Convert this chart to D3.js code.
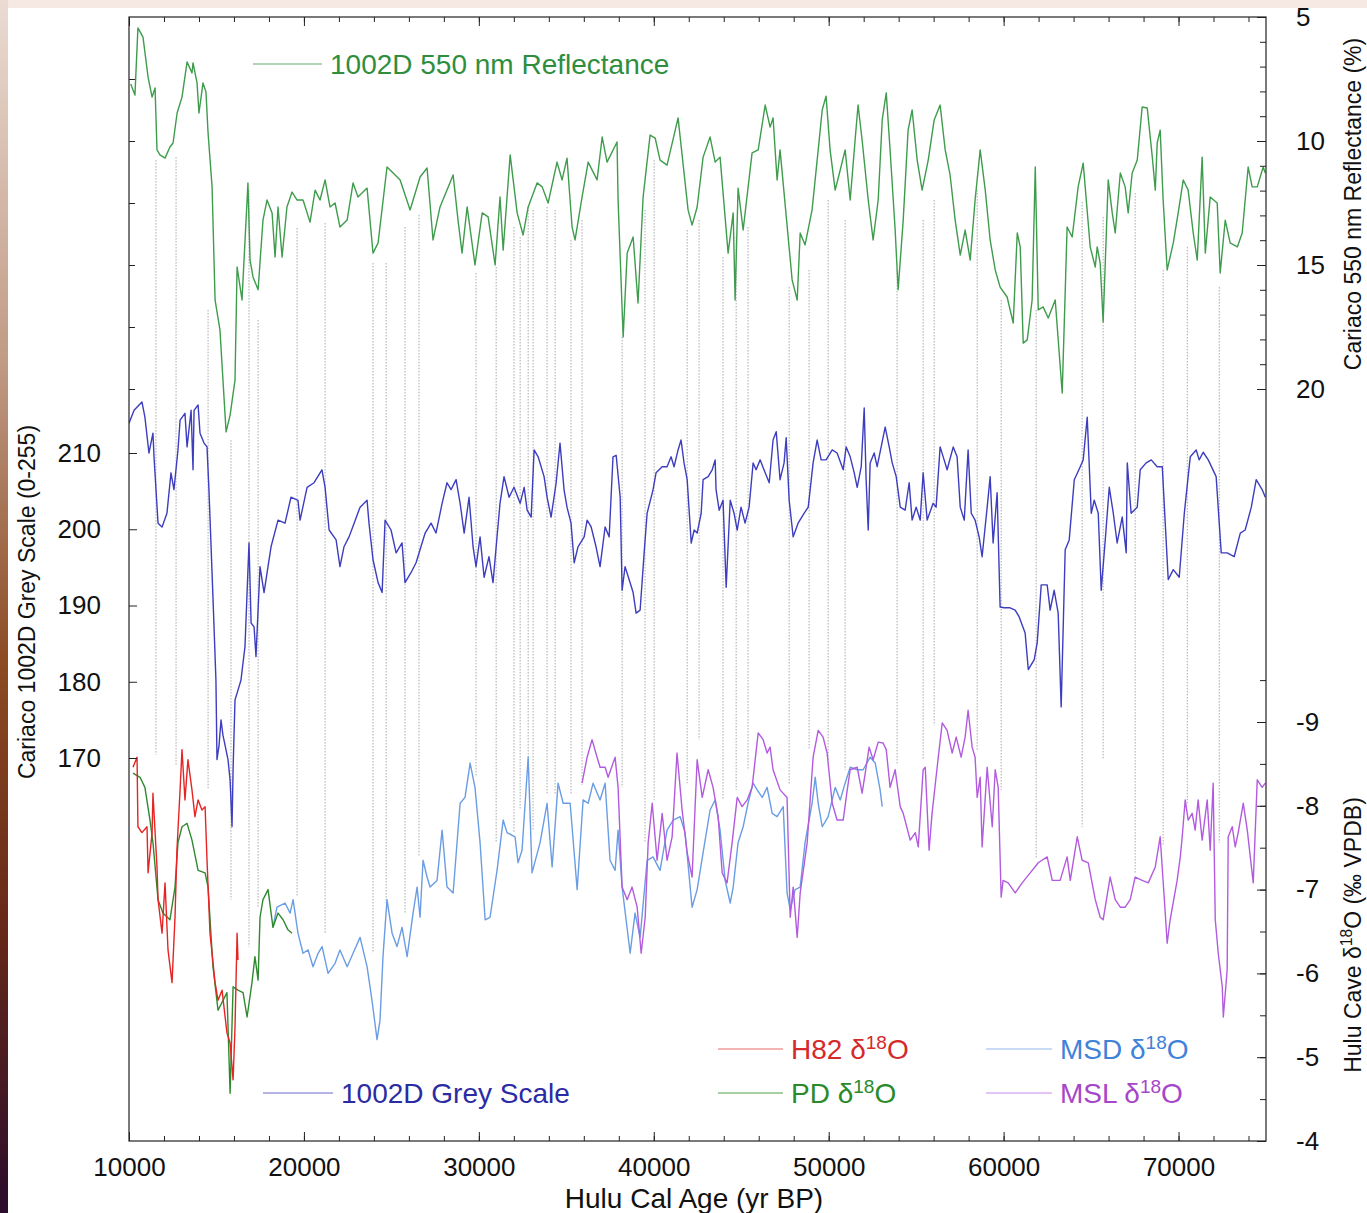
<!DOCTYPE html>
<html>
<head>
<meta charset="utf-8">
<script src="https://cdn.jsdelivr.net/npm/d3@7"></script>
<style>
  body { margin: 0; background: #fff; }
  text { font-family: "Liberation Sans", Arial, Helvetica, sans-serif; }
</style>
</head>
<body>
<div id="chart"></div>
<script>

// ---- data (age in yr BP, value in the series' own units) ----

// Cariaco 1002D 550 nm reflectance (%)
const reflectance = [[10100,7.7],[10340,8.15],[10510,5.44],[10800,5.81],[11090,7.42],[11320,8.23],[11490,7.86],[11600,10.36],[11770,10.56],[12060,10.69],[12340,10.24],[12520,10.08],[12750,8.87],[13030,8.23],[13320,6.81],[13600,7.26],[13660,6.85],[13890,7.66],[14000,8.87],[14230,7.66],[14400,8.02],[14520,9.68],[14750,11.85],[14920,16.41],[15200,17.62],[15550,21.73],[15780,21.05],[16060,19.64],[16180,15.08],[16460,16.41],[16800,11.69],[16920,14.8],[17090,15.48],[17380,16.0],[17660,13.19],[17890,12.38],[18180,12.9],[18350,14.68],[18520,12.66],[18750,14.68],[19030,12.66],[19320,12.06],[19610,12.38],[19950,12.38],[20350,13.27],[20640,11.98],[20920,12.38],[21210,11.57],[21490,12.66],[21780,12.5],[22060,13.47],[22470,13.19],[22810,11.69],[23090,12.26],[23610,11.9],[23950,14.52],[24240,14.11],[24750,11.05],[25100,11.29],[25500,11.57],[26070,12.78],[26640,11.45],[27040,11.09],[27380,13.99],[27780,12.66],[28180,11.98],[28530,11.37],[28810,13.19],[29040,14.52],[29330,12.66],[29780,15.0],[30190,12.9],[30530,13.06],[30930,15.0],[31210,12.26],[31390,14.4],[31790,10.56],[32190,12.9],[32530,13.79],[32820,12.66],[33330,11.69],[33620,11.85],[33960,12.5],[34470,10.85],[34760,11.57],[35040,10.69],[35330,13.47],[35500,13.99],[35900,12.26],[36250,10.85],[36760,11.57],[37050,9.84],[37330,10.85],[37900,10.04],[37960,12.38],[38250,17.9],[38480,14.52],[38820,13.87],[39100,16.53],[39390,12.26],[39790,9.76],[40080,9.88],[40360,10.77],[40760,10.97],[41390,9.07],[41960,12.78],[42190,13.39],[42480,12.66],[42820,10.65],[43220,9.84],[43510,10.85],[43790,10.65],[44250,14.52],[44540,12.9],[44650,16.41],[44820,11.9],[45110,13.59],[45620,10.48],[45970,10.36],[46370,8.55],[46650,9.44],[46820,9.07],[47050,11.57],[47220,10.36],[47910,15.6],[48200,16.41],[48370,13.71],[48650,14.19],[49050,12.78],[49400,10.36],[49630,8.75],[49850,8.19],[50080,10.36],[50370,11.98],[50660,11.17],[50940,10.36],[51230,12.38],[51510,9.96],[51680,8.55],[51910,9.96],[52260,12.38],[52540,13.99],[52830,12.38],[53060,9.15],[53290,8.06],[53510,10.36],[53800,13.59],[53970,16.0],[54260,13.19],[54540,9.56],[54770,8.75],[55060,10.77],[55340,11.98],[55690,10.77],[56030,9.15],[56370,8.55],[56660,10.36],[56940,11.37],[57230,13.19],[57520,14.6],[57800,13.59],[58090,14.8],[58370,12.38],[58660,10.36],[58950,11.98],[59230,13.99],[59520,15.2],[59800,15.89],[60200,16.29],[60550,17.34],[60780,13.71],[60950,14.27],[61120,18.15],[61350,18.02],[61630,16.41],[61810,11.05],[61980,16.81],[62260,16.69],[62550,17.14],[62950,16.41],[63350,20.16],[63630,13.47],[63920,13.87],[64260,11.85],[64550,10.89],[64950,14.27],[65240,15.08],[65350,14.27],[65520,14.92],[65690,17.3],[65980,11.57],[66210,12.9],[66380,13.71],[66670,11.29],[66950,11.85],[67120,12.9],[67350,11.29],[67640,10.77],[67920,8.63],[68210,8.67],[68500,10.65],[68670,11.98],[68780,10.08],[68950,9.56],[69120,12.38],[69350,15.2],[69700,14.11],[69980,12.9],[70270,11.57],[70550,11.98],[70840,13.71],[71070,14.8],[71350,10.65],[71530,14.52],[71810,12.26],[72210,12.5],[72380,15.32],[72670,13.19],[72950,14.11],[73360,14.27],[73640,13.71],[73980,11.05],[74210,11.85],[74500,11.85],[74840,11.05],[74960,11.29]];

// Cariaco 1002D grey scale (0-255)
const greyScale = [[10000,213.9],[10290,215.6],[10740,216.7],[10910,214.7],[11140,210.0],[11370,212.6],[11430,209.5],[11660,200.8],[11890,200.3],[12170,202.1],[12400,207.4],[12570,205.2],[12800,210.4],[12920,214.3],[13200,215.2],[13320,210.8],[13550,215.6],[13660,207.8],[13720,215.6],[13950,216.3],[14060,212.6],[14290,211.3],[14460,210.8],[14570,205.2],[14800,191.1],[14970,180.2],[15030,169.8],[15150,171.7],[15260,175.0],[15370,173.0],[15490,171.7],[15660,169.8],[15780,167.1],[15890,161.0],[15950,168.5],[16060,177.6],[16230,178.9],[16400,180.2],[16630,184.6],[16860,198.2],[16980,187.7],[17150,187.2],[17260,183.3],[17490,195.1],[17720,191.7],[18120,197.7],[18520,201.2],[18920,200.8],[19260,204.2],[19660,203.8],[19780,201.2],[20180,205.5],[20580,206.1],[21030,207.8],[21210,205.5],[21440,199.9],[21840,198.6],[22060,195.1],[22290,197.7],[22580,199.0],[22870,200.8],[23210,202.9],[23610,203.8],[23720,200.8],[23950,196.0],[24240,193.0],[24470,191.7],[24640,201.2],[24980,199.9],[25270,196.9],[25610,198.2],[25780,193.0],[26120,194.3],[26410,195.6],[26930,199.5],[27270,200.8],[27550,199.5],[27900,203.4],[28180,206.1],[28410,205.2],[28700,206.5],[28930,203.4],[29160,199.5],[29440,204.2],[29670,197.7],[29840,195.1],[30070,199.0],[30300,193.7],[30580,196.4],[30810,193.0],[30990,197.7],[31210,203.4],[31440,206.9],[31730,204.2],[32010,205.5],[32360,203.4],[32590,205.5],[32760,202.5],[32990,201.6],[33160,210.4],[33390,209.5],[33730,206.9],[33900,204.2],[34130,201.6],[34420,206.1],[34640,211.3],[34870,205.2],[35040,202.9],[35270,200.8],[35450,195.6],[35670,197.7],[36020,199.0],[36190,201.2],[36420,200.3],[36700,197.7],[36930,195.1],[37220,200.3],[37450,199.0],[37670,209.5],[37850,209.7],[38080,204.2],[38190,192.0],[38360,195.1],[38590,193.4],[38820,191.7],[38990,189.0],[39220,189.4],[39450,196.9],[39620,202.1],[39960,205.2],[40130,207.4],[40480,208.2],[40760,208.2],[40990,209.5],[41160,208.2],[41390,210.4],[41560,211.7],[41730,208.7],[41910,206.5],[42140,198.2],[42310,199.9],[42480,199.5],[42710,202.1],[42820,206.5],[43110,206.9],[43340,207.8],[43510,209.1],[43560,205.2],[43740,202.5],[43960,203.8],[44140,192.4],[44370,203.8],[44590,202.1],[44770,199.9],[44990,202.9],[45220,200.8],[45450,202.9],[45680,208.7],[45850,207.8],[46080,209.1],[46370,207.4],[46600,206.1],[46820,211.7],[47000,212.8],[47220,206.5],[47450,208.7],[47570,212.0],[47740,203.8],[47970,199.0],[48250,200.8],[48600,202.1],[48830,202.9],[49110,208.7],[49340,211.7],[49570,209.1],[49850,209.1],[50200,210.4],[50480,210.0],[50830,207.8],[51000,210.8],[51230,209.5],[51460,207.4],[51630,205.5],[51860,208.2],[52030,215.9],[52140,206.5],[52260,199.9],[52370,208.7],[52600,210.0],[52770,208.2],[53000,210.8],[53230,213.4],[53460,210.8],[53630,208.7],[53860,206.9],[54090,202.9],[54370,202.5],[54600,206.1],[54770,201.2],[55000,202.9],[55230,201.2],[55400,207.4],[55630,201.2],[55970,203.4],[56140,202.9],[56370,210.8],[56600,209.1],[56770,207.8],[57120,210.8],[57340,209.5],[57520,202.9],[57750,201.2],[57970,210.4],[58150,202.1],[58370,201.2],[58600,199.0],[58770,196.4],[59060,202.9],[59230,206.9],[59400,198.2],[59630,204.8],[59800,189.8],[60030,189.7],[60370,189.7],[60660,189.4],[60890,188.5],[61230,186.4],[61410,181.6],[61750,182.9],[61920,185.1],[62150,192.7],[62490,192.7],[62660,189.4],[62890,192.0],[63120,189.0],[63290,176.7],[63520,197.3],[63750,198.6],[64040,206.5],[64380,208.2],[64550,209.1],[64780,214.7],[65010,202.1],[65180,203.8],[65410,202.1],[65580,192.0],[65810,198.6],[66040,205.5],[66270,202.1],[66490,198.2],[66780,201.6],[67010,196.9],[67070,208.7],[67290,202.1],[67640,202.9],[67810,207.8],[68150,208.7],[68440,209.1],[68780,208.2],[69070,208.2],[69410,193.4],[69700,194.7],[70040,193.7],[70330,202.1],[70670,209.5],[71010,210.4],[71180,209.1],[71410,210.1],[71700,209.1],[72150,206.9],[72440,196.9],[72780,196.9],[73180,196.4],[73530,199.5],[73810,199.9],[74160,202.9],[74440,206.5],[74780,205.2],[74960,204.2]];

// Hulu Cave d18O (permil VPDB), one array per stalagmite
const h82 = [[10230,-8.46],[10460,-8.58],[10510,-7.75],[10740,-7.68],[11030,-7.75],[11090,-7.2],[11320,-7.68],[11370,-8.15],[11600,-7.27],[11660,-6.88],[11890,-6.48],[12060,-7.08],[12230,-6.28],[12460,-5.89],[12630,-6.67],[12740,-7.47],[12920,-8.19],[13030,-8.67],[13200,-8.07],[13370,-8.55],[13600,-8.19],[13770,-7.87],[13950,-8.07],[14170,-7.95],[14350,-7.99],[14460,-7.35],[14630,-6.48],[14920,-5.89],[15090,-5.68],[15320,-5.8],[15600,-5.29],[15780,-5.17],[15950,-4.73],[16060,-5.36],[16180,-6.48],[16230,-6.16]];

const pd = [[10230,-8.39],[10630,-8.34],[10910,-8.22],[11200,-7.83],[11370,-7.56],[11660,-6.88],[11940,-6.72],[12340,-6.64],[12630,-7.03],[12800,-7.56],[13030,-7.75],[13320,-7.79],[13600,-7.59],[13950,-7.23],[14350,-7.2],[14520,-7.03],[14800,-6.08],[15090,-5.56],[15600,-5.77],[15780,-4.57],[15950,-5.84],[16230,-5.8],[16520,-5.77],[16750,-5.48],[17030,-5.89],[17200,-6.2],[17380,-5.92],[17490,-6.67],[17660,-6.88],[17950,-7.0],[18230,-6.55],[18520,-6.72],[18810,-6.64],[19090,-6.52],[19320,-6.48]];

const msd = [[18230,-6.55],[18460,-6.79],[18920,-6.84],[19210,-6.72],[19380,-6.88],[19660,-6.48],[19950,-6.24],[20240,-6.28],[20520,-6.08],[20810,-6.24],[21040,-6.32],[21380,-6.0],[21780,-6.12],[22060,-6.28],[22470,-6.08],[22810,-6.24],[23210,-6.43],[23610,-6.08],[23890,-5.68],[24180,-5.21],[24350,-5.44],[24520,-6.2],[24750,-6.88],[25040,-6.48],[25320,-6.32],[25610,-6.55],[25900,-6.2],[26240,-6.72],[26470,-7.03],[26640,-6.67],[26810,-7.35],[27040,-7.15],[27210,-7.03],[27610,-7.11],[27900,-7.71],[28180,-7.03],[28530,-6.96],[28930,-8.03],[29210,-8.1],[29500,-8.51],[29780,-8.22],[30070,-7.56],[30360,-6.64],[30640,-6.67],[31040,-7.23],[31390,-7.83],[31610,-7.68],[32070,-7.63],[32240,-7.32],[32470,-7.47],[32820,-8.58],[33040,-7.2],[33500,-7.56],[33900,-8.03],[34190,-7.27],[34530,-8.27],[34820,-8.03],[35220,-8.03],[35620,-7.0],[35960,-8.07],[36250,-8.03],[36530,-8.27],[36930,-8.07],[37220,-8.27],[37500,-7.35],[37790,-7.23],[37960,-7.71],[38190,-7.03],[38650,-6.24],[38930,-6.72],[39220,-6.43],[39620,-7.35],[39960,-7.39],[40360,-7.23],[40760,-7.71],[41110,-7.83],[41510,-7.87],[41790,-7.68],[42190,-6.79],[42480,-7.0],[42820,-7.44],[43220,-7.95],[43510,-8.07],[43790,-7.71],[44080,-7.11],[44370,-6.84],[44540,-7.03],[44820,-7.56],[45110,-7.75],[45390,-8.03],[45680,-8.27],[45910,-8.19],[46200,-8.1],[46480,-8.22],[46770,-7.91],[47050,-7.87],[47400,-7.99],[47620,-6.96],[47800,-6.76],[48080,-7.0],[48370,-7.03],[48650,-7.56],[49050,-8.03],[49230,-8.34],[49400,-8.03],[49630,-7.75],[49970,-7.87],[50370,-8.22],[50660,-8.07],[50940,-8.27],[51230,-8.46],[51630,-8.43],[51970,-8.43],[52370,-8.58],[52660,-8.51],[52940,-8.19],[53060,-7.99]];

const msl = [[35900,-8.27],[36190,-8.58],[36470,-8.79],[36760,-8.58],[36930,-8.46],[37220,-8.46],[37390,-8.34],[37790,-8.58],[37960,-8.22],[38190,-7.03],[38480,-6.88],[38760,-7.03],[39050,-6.79],[39280,-6.24],[39510,-6.67],[39680,-7.56],[39910,-8.03],[40190,-7.35],[40480,-7.91],[40760,-7.35],[41050,-7.63],[41330,-8.63],[41620,-7.95],[41910,-7.44],[42190,-7.15],[42480,-8.55],[42770,-8.1],[43110,-8.43],[43390,-8.22],[43680,-7.87],[43910,-7.2],[44190,-7.08],[44480,-7.56],[44770,-8.1],[45050,-7.99],[45340,-8.07],[45620,-8.22],[45970,-8.87],[46250,-8.79],[46480,-8.63],[46650,-8.7],[46820,-8.43],[47220,-8.19],[47620,-8.1],[47800,-6.67],[47970,-7.03],[48200,-6.43],[48370,-6.96],[48770,-7.56],[49110,-8.58],[49400,-8.9],[49680,-8.82],[49910,-8.63],[50200,-8.03],[50480,-7.83],[50830,-7.83],[51060,-8.19],[51230,-8.43],[51630,-8.46],[51910,-8.15],[52090,-8.39],[52310,-8.7],[52540,-8.55],[52830,-8.76],[53110,-8.75],[53290,-8.67],[53510,-8.22],[53800,-8.43],[54090,-7.99],[54260,-7.91],[54660,-7.59],[54950,-7.68],[55120,-7.51],[55400,-8.43],[55520,-8.46],[55740,-7.47],[55910,-7.91],[56200,-8.46],[56490,-8.99],[56770,-8.9],[57060,-8.63],[57290,-8.82],[57570,-8.58],[57800,-8.82],[57970,-9.14],[58200,-8.7],[58370,-8.58],[58490,-8.1],[58660,-8.34],[58770,-7.51],[59060,-8.46],[59350,-7.75],[59520,-8.43],[59690,-8.22],[59860,-6.91],[59970,-7.11],[60260,-7.08],[60660,-6.96],[61060,-7.08],[61520,-7.2],[61980,-7.32],[62490,-7.39],[62780,-7.11],[63230,-7.11],[63630,-7.39],[63810,-7.11],[64210,-7.63],[64490,-7.35],[64840,-7.32],[65240,-6.88],[65520,-6.67],[65690,-6.64],[66090,-7.15],[66380,-6.88],[66670,-6.79],[66950,-6.79],[67240,-6.88],[67520,-7.15],[67920,-7.11],[68270,-7.08],[68670,-7.27],[68950,-7.63],[69240,-6.72],[69350,-6.36],[69520,-6.64],[69920,-7.11],[70100,-7.39],[70210,-7.63],[70380,-8.07],[70550,-7.83],[70780,-7.91],[70950,-7.71],[71120,-8.07],[71350,-7.59],[71640,-8.07],[71810,-7.47],[71980,-8.27],[72100,-6.64],[72270,-6.24],[72500,-5.84],[72560,-5.48],[72780,-6.04],[72840,-7.63],[73070,-7.75],[73240,-7.51],[73410,-7.68],[73700,-8.03],[73930,-7.71],[74270,-7.08],[74500,-8.31],[74780,-8.22],[74960,-8.27]];

// tie points: age, reflectance where the dotted line starts, d18O where it ends
const tieAges = [11540,12690,14520,15830,16860,17380,19610,21210,23950,24700,25780,26580,29840,30990,32010,32360,32820,33100,33900,34360,35270,35900,38190,39500,40020,41910,42590,43960,44710,45390,47740,48880,49970,50940,53910,55400,56030,58490,59860,61860,64490,65690,67520,69120,70500,72330];
const tieTops = [10.77,10.65,16.81,22.06,11.98,17.22,13.51,13.31,14.92,14.92,13.47,12.98,15.32,15.08,13.47,13.87,12.66,12.78,12.66,12.78,13.99,13.19,17.9,12.78,10.77,13.59,13.19,14.68,13.87,13.47,15.89,15.2,12.38,13.19,15.2,13.19,12.38,11.98,16.41,16.81,12.46,13.06,12.1,15.2,14.27,15.89];
const tieBottoms = [-8.61,-8.49,-8.19,-6.88,-6.32,-6.79,-6.91,-6.48,-6.24,-6.84,-6.72,-7.39,-8.34,-7.56,-7.68,-7.95,-8.55,-7.71,-8.15,-8.13,-8.13,-8.25,-8.22,-7.56,-8.07,-8.27,-8.79,-8.07,-8.19,-8.43,-8.25,-8.67,-8.55,-8.43,-8.49,-8.55,-8.96,-8.67,-8.19,-7.38,-7.75,-8.55,-7.2,-7.53,-8.03,-7.56];

// tick labels
const ageTicks = [10000, 20000, 30000, 40000, 50000, 60000, 70000];
const greyTicks = [170, 180, 190, 200, 210];
const reflTicks = [5, 10, 15, 20];
const d18oTicks = [-9, -8, -7, -6, -5, -4];

// ---- layout ----
let W = 1367, H = 1213;
let margin = {top: 17, right: 101, bottom: 72, left: 129},
    width = W - margin.left - margin.right,
    height = H - margin.top - margin.bottom;

let root = d3.select("#chart")
  .append("svg")
    .attr("width", W)
    .attr("height", H);

// faint slide frame: pinkish top band and a dark gradient down the left edge
let defs = root.append("defs");
let edge = defs.append("linearGradient")
    .attr("id", "edge").attr("x1", 0).attr("y1", 0).attr("x2", 0).attr("y2", 1);
edge.append("stop").attr("offset", "0%").attr("stop-color", "#eadbd3");
edge.append("stop").attr("offset", "30%").attr("stop-color", "#c09a84");
edge.append("stop").attr("offset", "55%").attr("stop-color", "#8a4a22");
edge.append("stop").attr("offset", "75%").attr("stop-color", "#6a2a18");
edge.append("stop").attr("offset", "100%").attr("stop-color", "#2a0c2c");
root.append("rect").attr("x", 0).attr("y", 0).attr("width", W).attr("height", 8).attr("fill", "#f6e9e3");
root.append("rect").attr("x", 0).attr("y", 0).attr("width", 8).attr("height", H).attr("fill", "url(#edge)");

let svg = root.append("g")
    .attr("transform", "translate(" + margin.left + "," + margin.top + ")");

defs.append("clipPath").attr("id", "plot")
  .append("rect").attr("width", width).attr("height", height);

// scales: one x, three y axes sharing the same box
let x = d3.scaleLinear().domain([10000, 75000]).range([0, width]);
let yRefl = d3.scaleLinear().domain([5, 20]).range([0, 372]);
let yGrey = d3.scaleLinear().domain([170, 210]).range([741, 436]);
let yIso = d3.scaleLinear().domain([-9, -4]).range([705, height]);

// tie lines (dotted grey)
let ties = tieAges.map((a, i) => ({age: a, top: tieTops[i], bottom: tieBottoms[i]}));
svg.append("g")
    .attr("clip-path", "url(#plot)")
  .selectAll("line")
  .data(ties)
  .enter().append("line")
    .attr("x1", d => x(d.age)).attr("x2", d => x(d.age))
    .attr("y1", d => yRefl(d.top))
    .attr("y2", d => yIso(d.bottom))
    .attr("stroke", "#a8a8a8")
    .attr("stroke-width", 1)
    .attr("stroke-dasharray", "1.5,1.5");

// series
let series = [
  {data: reflectance, y: yRefl, color: "#3e9c4c"},
  {data: greyScale, y: yGrey, color: "#3d3dbf"},
  {data: msd, y: yIso, color: "#6a9de4"},
  {data: msl, y: yIso, color: "#b35bdf"},
  {data: pd, y: yIso, color: "#2f8a2f"},
  {data: h82, y: yIso, color: "#e62424"}
];

let lines = svg.append("g").attr("clip-path", "url(#plot)");
series.forEach(function(s) {
  let line = d3.line()
      .x(d => x(d[0]))
      .y(d => s.y(d[1]));
  lines.append("path")
      .datum(s.data)
      .attr("d", line)
      .attr("fill", "none")
      .attr("stroke", s.color)
      .attr("stroke-width", 1.4)
      .attr("stroke-linejoin", "round");
});

// ---- axes ----
function styleAxis(g) {
  g.select(".domain").remove();
  g.selectAll("line").attr("stroke", "#222");
  g.selectAll("text").attr("font-size", 26).attr("fill", "#111");
}

let minorAges = d3.range(12000, 75000, 2000);
let plain = d => String(d);

// bottom
svg.append("g")
    .attr("transform", "translate(0," + height + ")")
    .call(d3.axisBottom(x).tickValues(minorAges).tickSize(-5).tickFormat(""))
    .call(styleAxis);
svg.append("g")
    .attr("transform", "translate(0," + height + ")")
    .call(d3.axisBottom(x).tickValues(ageTicks).tickSize(-9).tickPadding(17).tickFormat(plain))
    .call(styleAxis);
// top (mirrored ticks only)
svg.append("g")
    .call(d3.axisTop(x).tickValues(minorAges).tickSize(-5).tickFormat(""))
    .call(styleAxis);
svg.append("g")
    .call(d3.axisTop(x).tickValues(ageTicks).tickSize(-9).tickFormat(""))
    .call(styleAxis);

// left: grey scale labels, plus reflectance ticks in the top panel
svg.append("g")
    .call(d3.axisLeft(yGrey).tickValues(greyTicks).tickSize(-8).tickPadding(28).tickFormat(plain))
    .call(styleAxis);
svg.append("g")
    .call(d3.axisLeft(yRefl).tickValues(d3.range(7.5, 20.1, 2.5)).tickSize(-6).tickFormat(""))
    .call(styleAxis);

// right: reflectance (top) and d18O (bottom)
svg.append("g")
    .attr("transform", "translate(" + width + ",0)")
    .call(d3.axisRight(yRefl).tickValues(d3.range(6, 21, 1)).tickSize(-6).tickFormat(""))
    .call(styleAxis);
svg.append("g")
    .attr("transform", "translate(" + width + ",0)")
    .call(d3.axisRight(yRefl).tickValues(reflTicks).tickSize(-9).tickPadding(30).tickFormat(plain))
    .call(styleAxis);
svg.append("g")
    .attr("transform", "translate(" + width + ",0)")
    .call(d3.axisRight(yIso).tickValues(d3.range(-9.5, -4.4, 0.5)).tickSize(-6).tickFormat(""))
    .call(styleAxis);
svg.append("g")
    .attr("transform", "translate(" + width + ",0)")
    .call(d3.axisRight(yIso).tickValues(d18oTicks).tickSize(-9).tickPadding(30).tickFormat(plain))
    .call(styleAxis);

// frame
svg.append("rect")
    .attr("width", width).attr("height", height)
    .attr("fill", "none").attr("stroke", "#222").attr("stroke-width", 1.2);

// ---- titles ----
function deltaText(sel, before, after) {
  sel.append("tspan").text(before + "\u03b4");
  sel.append("tspan").text("18").attr("font-size", "0.68em").attr("dy", "-0.55em");
  sel.append("tspan").text("O" + after).attr("dy", "0.37em");
}

root.append("text")
    .attr("x", 694).attr("y", 1208)
    .attr("text-anchor", "middle").attr("font-size", 28).attr("fill", "#111")
    .text("Hulu Cal Age (yr BP)");

root.append("text")
    .attr("transform", "translate(35,602) rotate(-90)")
    .attr("text-anchor", "middle").attr("font-size", 23).attr("fill", "#111")
    .text("Cariaco 1002D Grey Scale (0-255)");

root.append("text")
    .attr("transform", "translate(1361,204) rotate(-90)")
    .attr("text-anchor", "middle").attr("font-size", 23).attr("fill", "#111")
    .text("Cariaco 550 nm Reflectance (%)");

root.append("text")
    .attr("transform", "translate(1361,935) rotate(-90)")
    .attr("text-anchor", "middle").attr("font-size", 23).attr("fill", "#111")
    .call(deltaText, "Hulu Cave ", " (\u2030 VPDB)");

// ---- legends ----
let legend = [
  {x1: 253, x2: 322, y: 64, color: "#5fae6a", text: "#2f8e3e", label: "1002D 550 nm Reflectance"},
  {x1: 263, x2: 333, y: 1093, color: "#6a6ad4", text: "#2b2ba3", label: "1002D Grey Scale"},
  {x1: 718, x2: 783, y: 1049, color: "#ec6a6a", text: "#d42a2a", delta: "H82 "},
  {x1: 718, x2: 783, y: 1093, color: "#4f9f4f", text: "#2a8a2a", delta: "PD "},
  {x1: 986, x2: 1052, y: 1049, color: "#93b8ec", text: "#3f82d8", delta: "MSD "},
  {x1: 986, x2: 1052, y: 1093, color: "#c88ae9", text: "#a646c9", delta: "MSL "}
];

let lg = root.append("g").selectAll("g").data(legend).enter().append("g");
lg.append("line")
    .attr("x1", d => d.x1).attr("x2", d => d.x2)
    .attr("y1", d => d.y).attr("y2", d => d.y)
    .attr("stroke", d => d.color).attr("stroke-width", 1.2);
lg.append("text")
    .attr("x", d => d.x2 + 8).attr("y", d => d.y + 10)
    .attr("font-size", 28)
    .attr("fill", d => d.text)
    .each(function(d) {
      let t = d3.select(this);
      if (d.delta) deltaText(t, d.delta, "");
      else t.text(d.label);
    });

</script>
</body>
</html>
